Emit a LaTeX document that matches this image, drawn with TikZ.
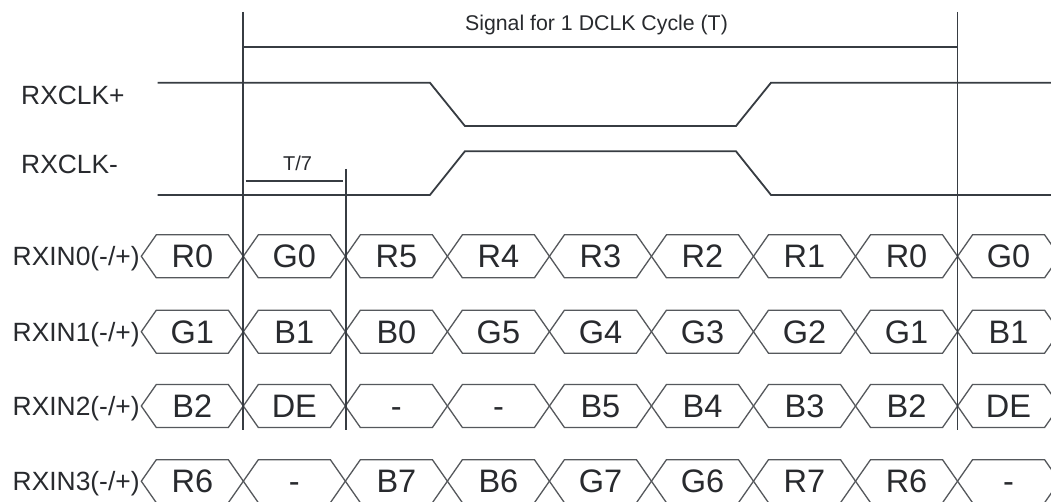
\documentclass[tikz,border=0pt]{standalone}
\usepackage{fontspec}
\newfontfamily\arialf{Liberation Sans}
\definecolor{txt}{RGB}{40,42,46}
\definecolor{tln}{RGB}{55,60,66}
\definecolor{hln}{RGB}{85,88,92}
\begin{document}
\begin{tikzpicture}[x=1pt,y=-1pt,
  tl/.style={draw=tln,line width=1.8pt},
  hex/.style={draw=hln,line width=1.3pt,line join=miter},
  cell/.style={font=\arialf\fontsize{32.5}{36}\selectfont,text=txt,inner sep=0pt,text height=23.3pt,text depth=0pt},
  lbl/.style={font=\arialf\fontsize{26.4}{30}\selectfont,text=txt,inner sep=0pt,text height=18.9pt,text depth=0pt},
  ttl/.style={font=\arialf\fontsize{21.3}{24}\selectfont,text=txt,inner sep=0pt,text height=15.25pt,text depth=0pt},
  sml/.style={font=\arialf\fontsize{20}{23}\selectfont,text=txt,inner sep=0pt,text height=14.3pt,text depth=0pt}]
\useasboundingbox[fill=white] (0,0) rectangle (1051,502);

% hexagon rows
\foreach \r/\yy/\cells in {0/256.3/{R0,G0,R5,R4,R3,R2,R1,R0,G0},
                           1/331.7/{G1,B1,B0,G5,G4,G3,G2,G1,B1},
                           2/406.0/{B2,DE,-,-,B5,B4,B3,B2,DE},
                           3/481.2/{R6,-,B7,B6,G7,G6,R7,R6,-}}{
  \node[lbl,anchor=west] (lab\r) at (12.5,\yy) {RXIN\r(-/+)};
  \foreach \c [count=\i from 0] in \cells {
    \pgfmathsetmacro\xa{141.3+102.03*\i}
    \draw[hex] (\xa,\yy) -- ++(15,-21.5) -- ++(72.03,0) -- ++(15,21.5)
               -- ++(-15,21.5) -- ++(-72.03,0) -- cycle;
    \node[cell] (c\r-\i) at ({\xa+51.015},\yy) {\c};
  }
}

% reference coordinates
\coordinate (v1t) at (243.3,11.8);
\coordinate (v1b) at (243.3,430);
\coordinate (v2t) at (957.5,11.8);
\coordinate (v2b) at (957.5,430);
\coordinate (v3t) at (345.7,169);
\coordinate (v3b) at (345.7,430);
\coordinate (sl) at (243.3,47.3);
\coordinate (sr) at (957.5,47.3);
\coordinate (tl7) at (245.5,181);
\coordinate (tr7) at (343.2,181);

\draw[tl] (v1t) -- (v1b);
\draw[tl] (v2t) -- (v2b);
\draw[tl] (v3t) -- (v3b);
\draw[tl] (sl) -- (sr);
\draw[tl] (tl7) -- (tr7);

% clock waveforms
\draw[tl,line join=miter] (157.7,82.7) -- (429.9,82.7) -- (464.9,126) -- (736,126) -- (771,82.7) -- (1052,82.7);
\draw[tl,line join=miter] (157.7,195) -- (429.9,195) -- (464.9,151.3) -- (736,151.3) -- (771,195) -- (1052,195);

% texts
\node[ttl] (title) at (596.5,23) {Signal for 1 DCLK Cycle (T)};
\node[sml] (t7) at (297.5,163.5) {T/7};
\node[lbl,anchor=west] (clkp) at (21,95) {RXCLK+};
\node[lbl,anchor=west] (clkm) at (21,164.5) {RXCLK-};
\end{tikzpicture}
\end{document}
